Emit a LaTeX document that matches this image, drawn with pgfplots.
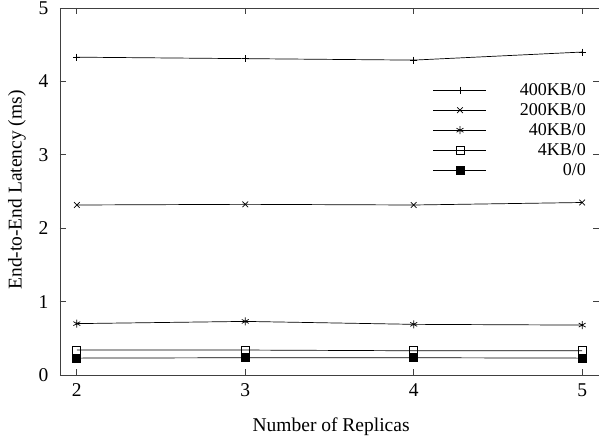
\documentclass[border=0pt]{standalone}
\usepackage{fontspec}
\setmainfont{Liberation Serif}
\usepackage{pgfplots}
\pgfplotsset{compat=1.18}
\newcommand{\cf}{\fontsize{19.5}{22}\selectfont}
\newcommand{\lf}{\fontsize{18}{21}\selectfont}
\begin{document}
\begin{tikzpicture}
\begin{axis}[
  scale only axis,
  width=539pt, height=367pt,
  xmin=1.9, xmax=5.1, ymin=0, ymax=5,
  xtick={2,3,4,5}, ytick={0,1,2,3,4,5},
  tick align=inside,
  major tick length=6pt,
  axis line style={black!75, line width=0.8pt},
  every tick/.style={black!75, line width=0.8pt},
  /pgf/number format/assume math mode=true,
  tick label style={font=\cf},
  xticklabel style={yshift=-5pt},
  yticklabel style={xshift=-8pt},
  xlabel={Number of Replicas},
  ylabel={End-to-End Latency (ms)},
  every axis x label/.style={at={(rel axis cs:0.503,0)}, anchor=base, yshift=-57pt, font=\cf},
  every axis y label/.style={at={(rel axis cs:0,0.504)}, anchor=center, xshift=-43pt, rotate=90, font=\cf},
  legend cell align=right,
  legend style={draw=none, fill=none, at={(0.9759,0.8038)}, anchor=north east,
    inner sep=0pt, font=\lf,
    nodes={text height=13pt, text depth=3pt, inner ysep=2pt, inner xsep=0pt},
    /tikz/every odd column/.append style={column sep=33pt}},
  legend image code/.code={\draw[mark repeat=2, mark phase=2] plot coordinates {(0pt,0pt) (26.5pt,0pt) (53pt,0pt)};},
  every axis plot/.append style={black, line width=0.7pt, mark options={solid, line width=0.7pt}},
]
\addplot[mark=+, mark size=3.5pt] coordinates {(2,4.33) (3,4.31) (4,4.29) (5,4.40)};
\addlegendentry{400KB/0}
\addplot[mark=x, mark size=4pt] coordinates {(2,2.316) (3,2.325) (4,2.316) (5,2.35)};
\addlegendentry{200KB/0}
\addplot[mark=asterisk, mark size=4pt] coordinates {(2,0.70) (3,0.73) (4,0.69) (5,0.68)};
\addlegendentry{40KB/0}
\addplot[mark=square, mark size=4pt] coordinates {(2,0.34) (3,0.34) (4,0.33) (5,0.33)};
\addlegendentry{4KB/0}
\addplot[mark=square*, mark size=4pt] coordinates {(2,0.23) (3,0.235) (4,0.235) (5,0.23)};
\addlegendentry{0/0}
\end{axis}
\pgfresetboundingbox
\path ([shift={(-60pt,-65pt)}]current axis.south west) rectangle ([shift={(0pt,8pt)}]current axis.north east);
\end{tikzpicture}
\end{document}
